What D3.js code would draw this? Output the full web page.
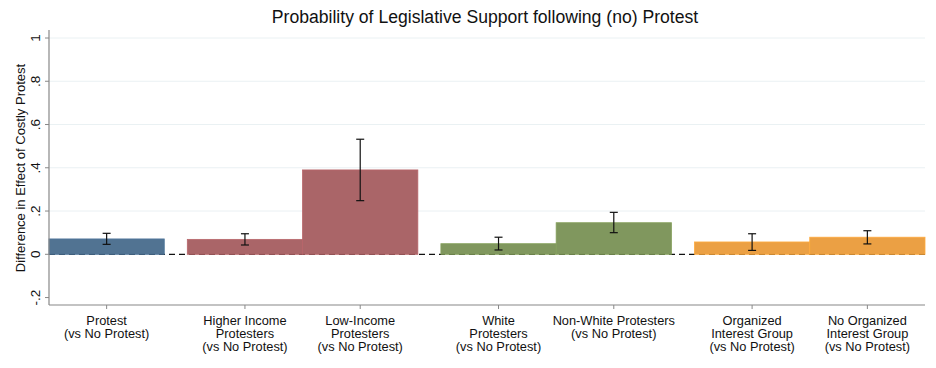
<!DOCTYPE html>
<html><head><meta charset="utf-8">
<script src="https://cdn.jsdelivr.net/npm/d3@7"></script>
<style>body{margin:0;background:#fff;font-family:"Liberation Sans",Arial,sans-serif;}</style>
</head><body><svg id="c" width="936" height="368"></svg>
<script>
const categories = [
  ["Protest","(vs No Protest)"],
  ["Higher Income","Protesters","(vs No Protest)"],
  ["Low-Income","Protesters","(vs No Protest)"],
  ["White","Protesters","(vs No Protest)"],
  ["Non-White Protesters","(vs No Protest)"],
  ["Organized","Interest Group","(vs No Protest)"],
  ["No Organized","Interest Group","(vs No Protest)"]
];
const slots = [0, 1.2, 2.2, 3.4, 4.4, 5.6, 6.6];
const values = [0.071, 0.069, 0.390, 0.049, 0.146, 0.057, 0.079];
const lower = [0.046, 0.043, 0.248, 0.020, 0.100, 0.018, 0.048];
const upper = [0.097, 0.095, 0.532, 0.079, 0.194, 0.095, 0.109];
const groups = [0, 1, 1, 2, 2, 3, 3];
const colors = ["#466a8b", "#a55b5f", "#789154", "#ea9a38"];
const yTicks = [-0.2, 0, 0.2, 0.4, 0.6, 0.8, 1];
const yTickLabels = ["-.2", "0", ".2", ".4", ".6", ".8", "1"];

const svg = d3.select("#c");
const L = 49, R = 925, T = 30, B = 305;
const x = d3.scaleLinear().domain([0, 7.6]).range([L, R]);
const y = d3.scaleLinear().domain([0, 1]).range([254.3, 38]);

// grid
svg.append("g").selectAll("line").data([0.2,0.4,0.6,0.8,1]).join("line")
  .attr("x1", L).attr("x2", R).attr("y1", d=>y(d)).attr("y2", d=>y(d))
  .attr("stroke", "#eaf1f3").attr("stroke-width", 1);

// zero dashed line
svg.append("line").attr("x1", L).attr("x2", R).attr("y1", y(0)).attr("y2", y(0))
  .attr("stroke", "#111").attr("stroke-width", 1.2).attr("stroke-dasharray", "6,4");

// bars
svg.append("g").selectAll("rect").data(values).join("rect")
  .attr("x", (d,i)=>x(slots[i]))
  .attr("width", (d,i)=>x(slots[i]+1)-x(slots[i]))
  .attr("y", d=>y(d)).attr("height", d=>y(0)-y(d))
  .attr("fill", (d,i)=>colors[groups[i]]).attr("fill-opacity", 0.94)
  .attr("stroke", (d,i)=>d3.color(colors[groups[i]]).brighter(0.3)).attr("stroke-width", 0.8);

// error bars
const eb = svg.append("g").attr("stroke", "#111").attr("stroke-width", 1.2);
values.forEach((v,i)=>{
  const cx = x(slots[i]+0.5);
  eb.append("line").attr("x1", cx).attr("x2", cx).attr("y1", y(upper[i])).attr("y2", y(lower[i]));
  eb.append("line").attr("x1", cx-4).attr("x2", cx+4).attr("y1", y(upper[i])).attr("y2", y(upper[i]));
  eb.append("line").attr("x1", cx-4).attr("x2", cx+4).attr("y1", y(lower[i])).attr("y2", y(lower[i]));
});

// axes lines
svg.append("line").attr("x1", L).attr("x2", L).attr("y1", T).attr("y2", B).attr("stroke", "#888").attr("stroke-width", 1.2);
svg.append("line").attr("x1", L).attr("x2", R).attr("y1", B).attr("y2", B).attr("stroke", "#888").attr("stroke-width", 1.2);

// y ticks
const yt = svg.append("g");
yTicks.forEach((t,i)=>{
  yt.append("line").attr("x1", L-4).attr("x2", L).attr("y1", y(t)).attr("y2", y(t)).attr("stroke", "#888");
  yt.append("text").attr("transform", `translate(${L-9},${y(t)}) rotate(-90)`)
    .attr("text-anchor", "middle").attr("font-size", 13.5).attr("fill", "#111").text(yTickLabels[i]);
});

// x ticks & labels
const xt = svg.append("g");
categories.forEach((lines,i)=>{
  const cx = x(slots[i]+0.5);
  xt.append("line").attr("x1", cx).attr("x2", cx).attr("y1", B).attr("y2", B+4).attr("stroke", "#888");
  const t = xt.append("text").attr("text-anchor", "middle").attr("font-size", 12.8).attr("fill", "#111");
  lines.forEach((s,j)=>{
    t.append("tspan").attr("x", cx).attr("y", 324.5 + j*13.3).text(s);
  });
});

// y title
svg.append("text").attr("transform", `translate(25,168) rotate(-90)`)
  .attr("text-anchor", "middle").attr("font-size", 13).attr("fill", "#111")
  .text("Difference in Effect of Costly Protest");

// title
svg.append("text").attr("x", 485).attr("y", 23).attr("text-anchor", "middle")
  .attr("font-size", 17.6).attr("fill", "#111")
  .text("Probability of Legislative Support following (no) Protest");
</script></body></html>
